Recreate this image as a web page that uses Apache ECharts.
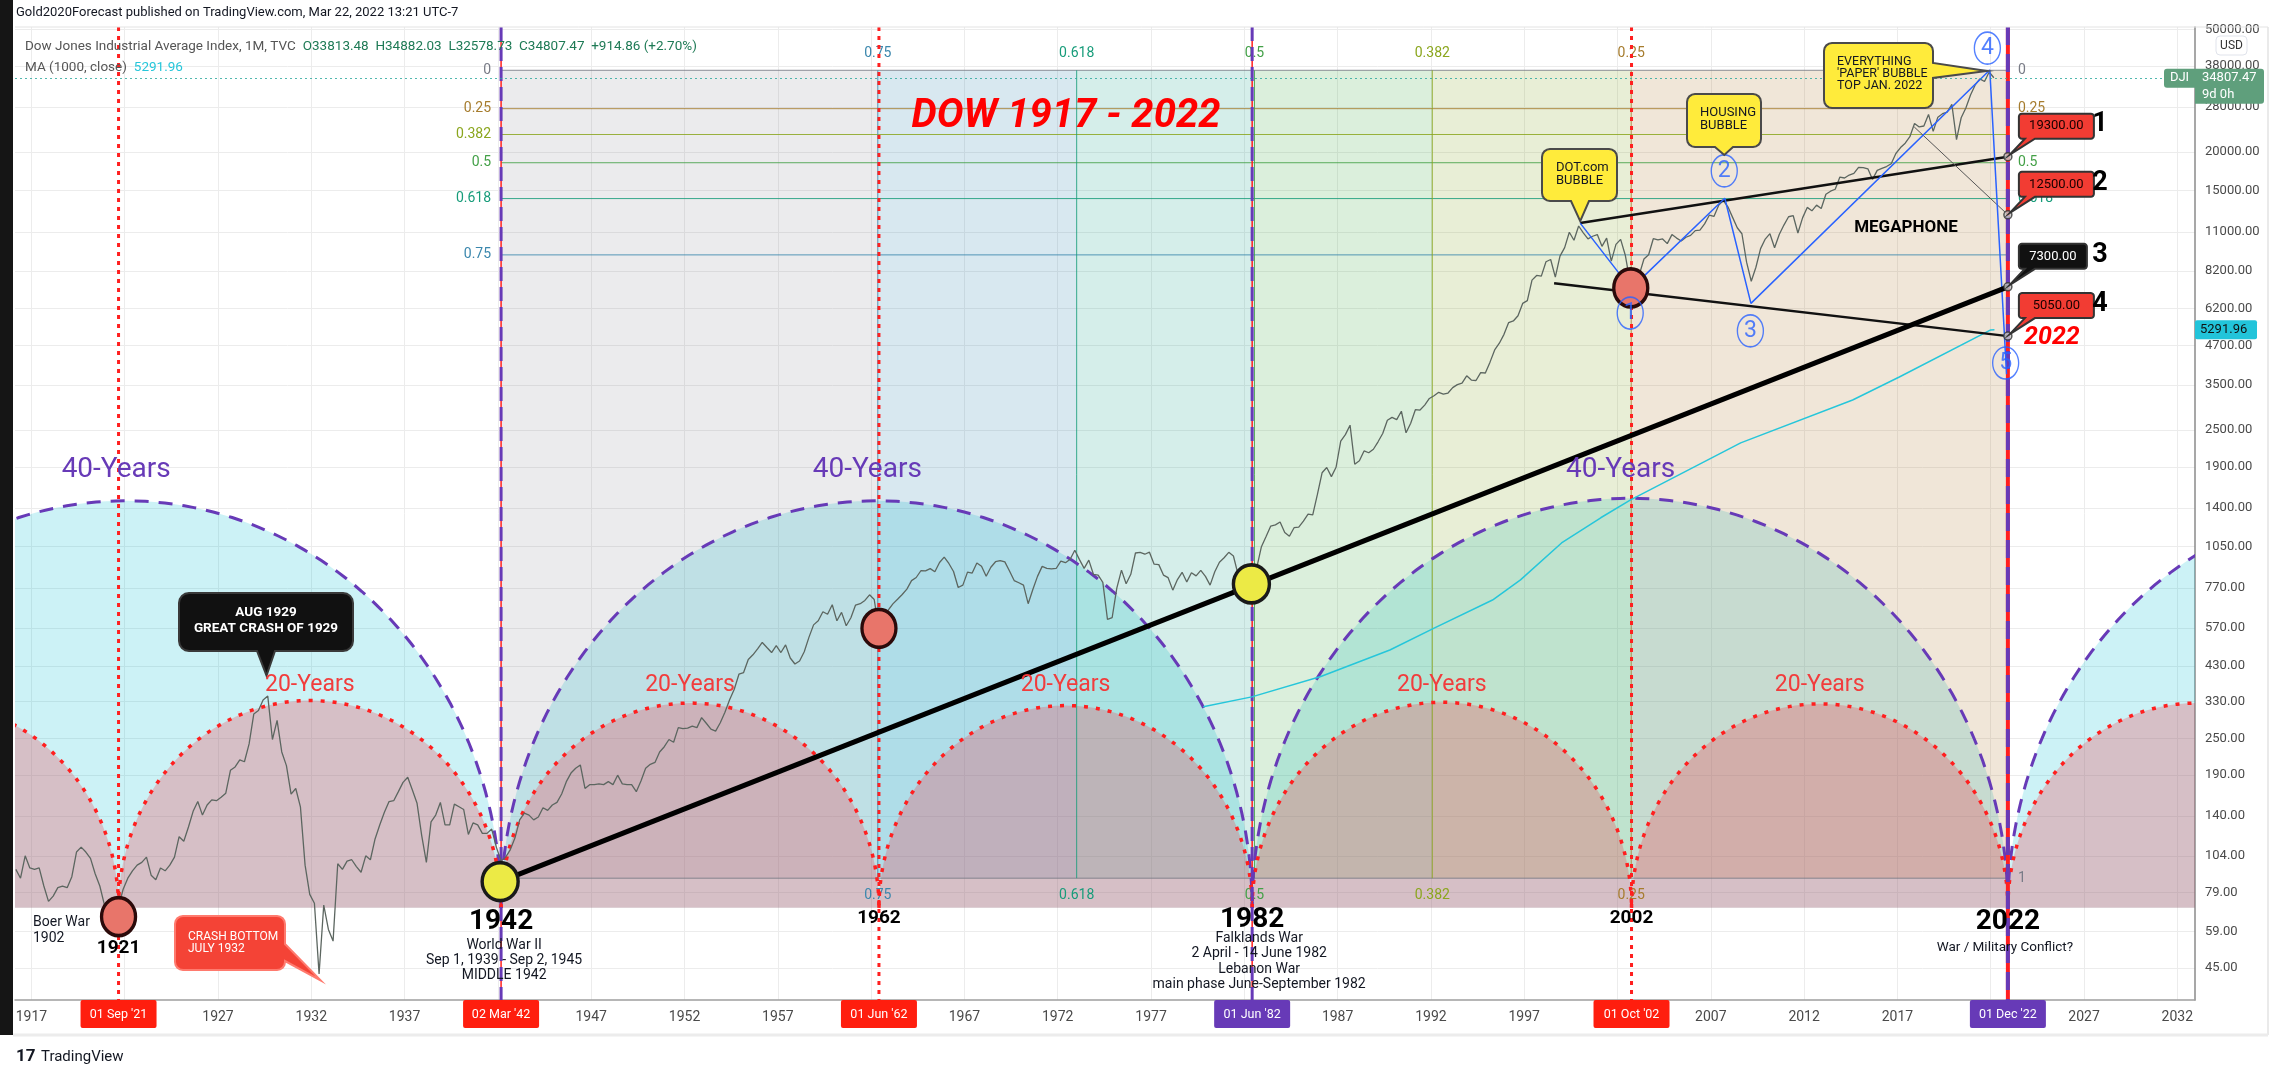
<!DOCTYPE html>
<html>
<head>
<meta charset="utf-8">
<title>DOW 1917 - 2022</title>
<script src="https://cdn.jsdelivr.net/npm/echarts@6.0.0/dist/echarts.min.js"></script>
<style>
  html, body { margin: 0; padding: 0; background: #fff; }
  #chart { width: 2277px; height: 1077px; }
</style>
</head>
<body>
<div id="chart"></div>
<script>
// ---------- values ----------

// Dow Jones quarter closes (Mar, Jun, Sep, Dec), 1916 .. Mar 2022
const dowStartYear = 1916;
const dowQuarterClose = [
  94, 88, 104, 95,            // 1916
  94, 95, 83, 74,             // 1917
  77, 82, 83, 82,             // 1918
  89, 107, 111, 107,          // 1919
  102, 91, 83, 72,            // 1920
  75, 69, 71, 81,             // 1921
  88, 93, 97, 99,             // 1922
  103, 90, 87, 95,            // 1923
  93, 97, 103, 120,           // 1924
  116, 129, 145, 156,         // 1925
  141, 152, 158, 157,         // 1926
  161, 166, 197, 202,         // 1927
  213, 210, 240, 300,         // 1928
  308, 333, 343, 248,         // 1929
  286, 226, 204, 165,         // 1930
  172, 150, 97, 78,           // 1931
  73, 43, 72, 60,             // 1932
  55, 98, 94, 100,            // 1933
  101, 96, 92, 104,           // 1934
  101, 118, 131, 144,         // 1935
  156, 157, 168, 180,         // 1936
  187, 170, 154, 121,         // 1937
  99, 134, 141, 155,          // 1938
  131, 131, 153, 150,         // 1939
  147, 122, 133, 131,         // 1940
  123, 123, 127, 111,         // 1941
  100, 103, 109, 119,         // 1942
  136, 143, 141, 136,         // 1943
  139, 149, 146, 152,         // 1944
  155, 165, 181, 193,         // 1945
  200, 205, 172, 177,         // 1946
  177, 178, 177, 181,         // 1947
  177, 190, 178, 177,         // 1948
  177, 168, 182, 200,         // 1949
  206, 209, 226, 235,         // 1950
  248, 243, 271, 269,         // 1951
  270, 274, 271, 292,         // 1952
  280, 268, 264, 281,         // 1953
  304, 334, 361, 404,         // 1954
  409, 451, 467, 488,         // 1955
  512, 493, 475, 500,         // 1956
  475, 503, 456, 436,         // 1957
  446, 478, 532, 584,         // 1958
  602, 644, 632, 679,         // 1959
  602, 641, 580, 616,         // 1960
  677, 684, 701, 731,         // 1961
  706, 561, 579, 652,         // 1962
  683, 707, 733, 763,         // 1963
  813, 832, 875, 874,         // 1964
  889, 868, 931, 969,         // 1965
  924, 870, 772, 786,         // 1966
  866, 860, 927, 905,         // 1967
  840, 898, 936, 944,         // 1968
  935, 873, 813, 800,         // 1969
  786, 684, 761, 839,         // 1970
  904, 891, 887, 890,         // 1971
  940, 929, 953, 1020,        // 1972
  951, 891, 947, 851,         // 1973
  847, 802, 608, 616,         // 1974
  768, 879, 794, 852,         // 1975
  999, 1003, 990, 1005,       // 1976
  919, 916, 847, 831,         // 1977
  757, 819, 865, 805,         // 1978
  862, 842, 878, 839,         // 1979
  786, 868, 932, 964,         // 1980
  1004, 977, 850, 875,        // 1981
  823, 812, 896, 1047,        // 1982
  1130, 1222, 1233, 1259,     // 1983
  1165, 1132, 1207, 1212,     // 1984
  1267, 1336, 1329, 1547,     // 1985
  1819, 1893, 1768, 1896,     // 1986
  2305, 2419, 2596, 1939,     // 1987
  1989, 2142, 2113, 2169,     // 1988
  2293, 2440, 2693, 2753,     // 1989
  2707, 2881, 2453, 2634,     // 1990
  2914, 2907, 3017, 3169,     // 1991
  3236, 3319, 3272, 3301,     // 1992
  3436, 3516, 3555, 3754,     // 1993
  3636, 3625, 3843, 3834,     // 1994
  4158, 4556, 4789, 5117,     // 1995
  5588, 5655, 5882, 6448,     // 1996
  6584, 7673, 7945, 7908,     // 1997
  8800, 8952, 7843, 9181,     // 1998
  9786, 10971, 10337, 11497,  // 1999
  10922, 10448, 10651, 10787, // 2000
  9879, 10502, 8848, 10022,   // 2001
  10404, 9243, 7592, 8342,    // 2002
  7992, 8985, 9275, 10454,    // 2003
  10358, 10435, 10080, 10783, // 2004
  10504, 10275, 10569, 10718, // 2005
  11109, 11150, 11679, 12463, // 2006
  12354, 13409, 13896, 13265, // 2007
  12263, 11350, 10851, 8776,  // 2008
  7609, 8447, 9712, 10428,    // 2009
  10857, 9774, 10788, 11578,  // 2010
  12320, 12414, 10913, 12218, // 2011
  13212, 12880, 13437, 13104, // 2012
  14579, 14910, 15130, 16577, // 2013
  16458, 16827, 17043, 17823, // 2014
  17776, 17620, 16285, 17425, // 2015
  17685, 17930, 18308, 19763, // 2016
  20663, 21350, 22405, 24719, // 2017
  24103, 24271, 26458, 23327, // 2018
  25929, 26600, 26917, 28538, // 2019
  21917, 25813, 27782, 30606, // 2020
  32982, 34503, 33844, 36338, // 2021
  34807                       // 2022 (to date)
];
const lastClose = 34807.47;

// MA (1000, close)
const maYears  = [1979.8, 1982.4, 1986.1, 1989.8, 1992.2, 1995.3, 1996.8, 1999.0, 2001.1, 2002.7, 2008.6, 2014.6, 2017.1, 2022.0, 2022.2];
const maValues = [317, 341, 397, 484, 571, 703, 817, 1077, 1300, 1486, 2274, 3133, 3720, 5290, 5292];
const maLast = 5291.96;

// axes
const xTickYears = [1917, 1922, 1927, 1932, 1937, 1942, 1947, 1952, 1957, 1962, 1967, 1972, 1977, 1982, 1987, 1992, 1997, 2002, 2007, 2012, 2017, 2022, 2027, 2032];
const yTickValues = [45, 59, 79, 104, 140, 190, 250, 330, 430, 570, 770, 1050, 1400, 1900, 2500, 3500, 4700, 6200, 8200, 11000, 15000, 20000, 28000, 38000, 50000];
const xFirstYear = 1916.121, xLastYear = 2032.947;
const priceFloor = 35.42, priceCeil = 50850;

// cycle dates
const cycle40Bounds = [1901.92, 1942.17, 1982.42, 2022.92, 2063.17];
const cycle20Bounds = [1901.42, 1921.67, 1942.17, 1962.42, 1982.42, 2002.75, 2022.92, 2043.17];
const redDotDates = [1921.67, 1962.42, 2002.75];
const purpleDates = [1942.17, 1982.42, 2022.92];
const arcBase = 70.5;

// fibonacci retracement / time
const fibLevels = [0, 0.25, 0.382, 0.5, 0.618, 0.75, 1];
const fibTimeLevels = [1, 0.75, 0.618, 0.5, 0.382, 0.25, 0];
const fibHigh = 36800, fibLow = 88;
const fibStartYear = 1942.17, fibEndYear = 2022.92;

// date tags on the time scale
const dateTagYears = [1921.67, 1942.17, 1962.42, 1982.42, 2002.75, 2022.92];
const dateTagLabels = ["01 Sep '21", "02 Mar '42", "01 Jun '62", "01 Jun '82", "01 Oct '02", "01 Dec '22"];

// marked lows
const redMarkYears = [1921.67, 1962.42, 2002.71];
const redMarkValues = [66, 569, 7240];
const yellowMarkYears = [1942.12, 1982.38];
const yellowMarkValues = [85.8, 793];

// drawn lines
const trendYears = [1942.12, 2022.92];
const trendValues = [85.8, 7300];
const megaUpperYears = [2000.0, 2022.92];
const megaUpperValues = [11750, 19300];
const megaLowerYears = [1998.6, 2022.92];
const megaLowerValues = [7500, 5050];
const thinYears = [2017.9, 2022.92];
const thinValues = [24100, 12500];
const waveYears = [2000.0, 2002.72, 2007.75, 2009.15, 2021.95, 2022.85];
const waveValues = [11750, 7200, 14150, 6450, 36900, 3800];
const waveLabelYears = [2002.68, 2007.72, 2009.12, 2021.82, 2022.80];
const waveLabelValues = [6000, 17350, 5250, 43400, 4130];
const waveLabelNames = ['1', '2', '3', '4', '5'];
const targetValues = [19300, 12500, 7300, 5050];
const targetNames = ['1', '2', '3', '4'];

// ---------- styles ----------
const FONT = 'Roboto';
const fibColor = { 0: '#787b86', 0.25: '#a67c2e', 0.382: '#8ba61e', 0.5: '#43a047', 0.618: '#179c7a', 0.75: '#3a87ad', 1: '#787b86' };
const fibBandFill = ['rgba(120,123,134,0.15)', 'rgba(60,140,180,0.2)', 'rgba(8,153,129,0.17)', 'rgba(76,175,80,0.2)', 'rgba(139,170,50,0.2)', 'rgba(180,130,60,0.2)'];
const dateTagColors = ['#ff1e0e', '#ff1e0e', '#ff1e0e', '#673ab7', '#ff1e0e', '#673ab7'];
const arcAspect = 1.084;

const L = v => Math.log10(v);
const pairs = (xs, vs) => xs.map((x, i) => [x, L(vs[i])]);
const fibPrice = l => fibHigh - l * (fibHigh - fibLow);
const fibTime = l => fibEndYear - l * (fibEndYear - fibStartYear);

const priceData = dowQuarterClose.map((v, i) => [dowStartYear + i * 0.25 + 2 / 12, L(v)]);
const cyclePairs = b => b.slice(0, -1).map((s, i) => [s, b[i + 1]]);
const fibBandData = fibTimeLevels.slice(0, -1).map((l, i) => [fibTime(l), fibTime(fibTimeLevels[i + 1])]);

function clipRect(params) {
  const c = params.coordSys;
  return { type: 'rect', shape: { x: c.x, y: c.y, width: c.width, height: c.height } };
}
function arcPoints(api) {
  const a = api.coord([api.value(0), L(arcBase)]);
  const b = api.coord([api.value(1), L(arcBase)]);
  const cx = (a[0] + b[0]) / 2, rx = (b[0] - a[0]) / 2, ry = rx * arcAspect;
  const pts = [];
  for (let k = 0; k <= 120; k++) {
    const t = Math.PI * k / 120;
    pts.push([cx - rx * Math.cos(t), a[1] - ry * Math.sin(t)]);
  }
  return pts;
}
const arcFill = color => (params, api) => ({
  type: 'group', clipPath: clipRect(params),
  children: [{ type: 'polygon', shape: { points: arcPoints(api) }, style: { fill: color } }]
});
const arcStroke = (color, width, dash) => (params, api) => ({
  type: 'group', clipPath: clipRect(params),
  children: [{ type: 'polyline', shape: { points: arcPoints(api) }, style: { stroke: color, lineWidth: width, lineDash: dash, fill: null } }]
});

function bandRender(params, api) {
  const p0 = api.coord([api.value(0), L(fibHigh)]);
  const p1 = api.coord([api.value(1), L(fibLow)]);
  return { type: 'rect', shape: { x: p0[0], y: p0[1], width: p1[0] - p0[0], height: p1[1] - p0[1] }, style: { fill: fibBandFill[params.dataIndex] } };
}
function fibLevelRender(params, api) {
  const lvl = fibLevels[params.dataIndex];
  const a = api.coord([fibStartYear, L(fibPrice(lvl))]);
  const b = api.coord([fibEndYear, L(fibPrice(lvl))]);
  const c = fibColor[lvl];
  const ts = { text: String(lvl), fill: c, fontSize: 14, fontFamily: FONT, verticalAlign: 'middle' };
  return {
    type: 'group', children: [
      { type: 'line', shape: { x1: a[0], y1: a[1], x2: b[0], y2: b[1] }, style: { stroke: c, lineWidth: 1, opacity: 0.85 } },
      { type: 'text', x: a[0] - 10, y: a[1], style: Object.assign({ align: 'right' }, ts) },
      { type: 'text', x: b[0] + 10, y: b[1], style: Object.assign({ align: 'left' }, ts) }
    ]
  };
}
function fibTimeRender(params, api) {
  const lvl = fibTimeLevels[params.dataIndex + 1];
  const t = fibTime(lvl);
  const top = api.coord([t, L(fibHigh)]);
  const bot = api.coord([t, L(fibLow)]);
  const c = fibColor[lvl];
  const ts = { text: String(lvl), fill: c, fontSize: 14, fontFamily: FONT, align: 'center', verticalAlign: 'middle' };
  return {
    type: 'group', children: [
      { type: 'line', shape: { x1: top[0], y1: top[1], x2: bot[0], y2: bot[1] }, style: { stroke: c, lineWidth: 1, opacity: 0.85 } },
      { type: 'text', x: top[0], y: top[1] - 17, style: ts },
      { type: 'text', x: bot[0], y: bot[1] + 17, style: ts }
    ]
  };
}
function cycleLineRender(params, api) {
  const x = api.coord([api.value(0), L(100)])[0];
  const c = params.coordSys;
  const kind = api.value(1);
  const seg = (stroke, w, dash) => ({ type: 'line', shape: { x1: x, y1: c.y, x2: x, y2: c.y + c.height }, style: { stroke, lineWidth: w, lineDash: dash } });
  if (kind === 0) return seg('#ff1f1f', 3, [4, 5]);
  if (kind === 1) return { type: 'group', children: [seg('#ff1f1f', 1.5, null), seg('#673ab7', 3, [14, 6])] };
  return { type: 'group', children: [seg('#ff1f1f', 4, null), seg('#673ab7', 4, [18, 9])] };
}
const cycleLineData = redDotDates.map(d => [d, 0]).concat(purpleDates.map((d, i) => [d, i === purpleDates.length - 1 ? 2 : 1]));

const lineSeries = (data, color, width, z) => ({
  type: 'line', data, symbol: 'none', silent: true, z: z || 3,
  lineStyle: { color, width }, emphasis: { disabled: true }
});

const chart = echarts.init(document.getElementById('chart'), null, { renderer: 'canvas' });

chart.setOption({
  animation: false,
  backgroundColor: '#ffffff',
  grid: { left: 15, top: 27, width: 2180, height: 973, containLabel: false, outerBoundsMode: 'none' },
  xAxis: {
    type: 'value', min: xFirstYear, max: xLastYear,
    axisLine: { show: true, lineStyle: { color: '#9e9e9e', width: 1.5 } },
    axisTick: { show: false, customValues: xTickYears },
    axisLabel: { customValues: xTickYears, color: '#4a4a4a', fontSize: 14, fontFamily: FONT, margin: 10, formatter: v => String(Math.round(v)) },
    splitLine: { show: true, lineStyle: { color: '#ececec', width: 1 } }
  },
  yAxis: {
    type: 'value', position: 'right', min: L(priceFloor), max: L(priceCeil),
    axisLine: { show: true, lineStyle: { color: '#8a8a8a', width: 1.5 } },
    axisTick: { show: false, customValues: yTickValues.map(L) },
    axisLabel: { customValues: yTickValues.map(L), color: '#4a4a4a', fontSize: 13, fontFamily: FONT, margin: 10, formatter: v => Math.round(Math.pow(10, v)).toFixed(2) },
    splitLine: { show: true, lineStyle: { color: '#ececec', width: 1 } }
  },
  series: [
    { type: 'custom', name: '40-year fill', data: cyclePairs(cycle40Bounds), renderItem: arcFill('rgba(0,188,212,0.2)'), silent: true, z: 1 },
    { type: 'custom', name: 'fib bands', data: fibBandData, renderItem: bandRender, silent: true, z: 1 },
    { type: 'custom', name: '20-year fill', data: cyclePairs(cycle20Bounds), renderItem: arcFill('rgba(242,54,69,0.27)'), silent: true, z: 1 },
    { type: 'custom', name: 'fib levels', data: fibLevels.map(l => [fibStartYear, L(fibPrice(l))]), renderItem: fibLevelRender, silent: true, z: 2 },
    { type: 'custom', name: 'fib time', data: fibTimeLevels.slice(1, -1).map(l => [fibTime(l), L(fibHigh)]), renderItem: fibTimeRender, silent: true, z: 2 },
    { type: 'custom', name: '40-year arcs', data: cyclePairs(cycle40Bounds), renderItem: arcStroke('#673ab7', 3, [14, 10]), silent: true, z: 2 },
    { type: 'custom', name: '20-year arcs', data: cyclePairs(cycle20Bounds), renderItem: arcStroke('#ff1f1f', 3.5, [4, 8]), silent: true, z: 2 },
    { type: 'custom', name: 'cycle lines', data: cycleLineData, renderItem: cycleLineRender, silent: true, z: 2 },
    Object.assign(lineSeries(priceData, '#5c6660', 1.3, 3), {
      name: 'DJI',
      markLine: { silent: true, symbol: 'none', label: { show: false }, lineStyle: { color: '#26a69a', type: [2, 3], width: 1, opacity: 0.8 }, data: [{ yAxis: L(lastClose) }] }
    }),
    lineSeries(pairs(maYears, maValues), '#26c6da', 1.5, 3),
    lineSeries(pairs(megaUpperYears, megaUpperValues), '#111111', 2.5, 4),
    lineSeries(pairs(megaLowerYears, megaLowerValues), '#111111', 2.5, 4),
    lineSeries(pairs(thinYears, thinValues), '#555555', 1, 4),
    lineSeries(pairs(waveYears, waveValues), '#2962ff', 1.5, 4),
    lineSeries(pairs(trendYears, trendValues), '#000000', 5, 4),
    {
      type: 'scatter', name: 'red lows', data: pairs(redMarkYears, redMarkValues), symbol: 'circle', symbolSize: [34, 38], silent: true, z: 5,
      itemStyle: { color: '#e8756a', borderColor: '#2b0a0a', borderWidth: 3.5, opacity: 1 }
    },
    {
      type: 'scatter', name: 'yellow lows', data: pairs(yellowMarkYears, yellowMarkValues), symbol: 'circle', symbolSize: [36, 38], silent: true, z: 5,
      itemStyle: { color: '#ecea45', borderColor: '#1a1a1a', borderWidth: 3.5, opacity: 1 }
    },
    {
      type: 'scatter', name: 'wave count', silent: true, z: 5, symbol: 'circle', symbolSize: [26, 32],
      data: waveLabelYears.map((y, i) => ({ value: [y, L(waveLabelValues[i])], name: waveLabelNames[i] })),
      itemStyle: { color: 'rgba(255,255,255,0)', borderColor: '#2962ff', borderWidth: 1.5 },
      label: { show: true, position: 'inside', formatter: '{b}', color: '#2962ff', fontSize: 23, fontFamily: FONT }
    },
    {
      type: 'scatter', name: 'targets', silent: true, z: 5, symbol: 'circle', symbolSize: 8,
      data: targetValues.map(v => [fibEndYear, L(v)]),
      itemStyle: { color: '#c8c8c8', borderColor: '#333333', borderWidth: 1.5 }
    }
  ]
});

// ---------- annotations ----------
const P = (yr, v) => chart.convertToPixel({ gridIndex: 0 }, [yr, L(v)]);
const X = yr => P(yr, 100)[0];

const T = (x, y, text, s) => ({
  type: 'text', x, y, z: 100, silent: true,
  style: Object.assign({ text, fill: '#131722', fontSize: 14, fontFamily: FONT, align: 'center', verticalAlign: 'middle' }, s || {})
});
const R = (x, y, w, h, style, r) => ({ type: 'rect', z: 99, silent: true, shape: { x, y, width: w, height: h, r: r || 0 }, style });
const Ln = (x1, y1, x2, y2, stroke, w) => ({ type: 'line', z: 98, silent: true, shape: { x1, y1, x2, y2 }, style: { stroke, lineWidth: w } });

function calloutPoly(x, y, w, h, r, ptr) {
  const pts = [];
  const arc = (cx, cy, a0) => { for (let k = 0; k <= 4; k++) { const a = a0 + k * Math.PI / 8; pts.push([cx + r * Math.cos(a), cy + r * Math.sin(a)]); } };
  arc(x + r, y + r, Math.PI);
  arc(x + w - r, y + r, -Math.PI / 2);
  if (ptr.side === 'right') pts.push([x + w, ptr.a], ptr.tip, [x + w, ptr.b]);
  arc(x + w - r, y + h - r, 0);
  if (ptr.side === 'bottom') pts.push([ptr.b, y + h], ptr.tip, [ptr.a, y + h]);
  arc(x + r, y + h - r, Math.PI / 2);
  return { type: 'polygon', z: 99, silent: true, shape: { points: pts }, style: { fill: ptr.fill, stroke: ptr.stroke, lineWidth: ptr.lw || 2 } };
}

const g = [];

// frame
g.push(R(0, 0, 13, 1035, { fill: '#151515' }));
g.push(Ln(15, 27, 2268, 27, '#e3e3e3', 1));
g.push(Ln(2268, 27, 2268, 1035, '#e3e3e3', 1.5));
g.push(Ln(13, 1035, 2268, 1035, '#ececec', 3));

// header and legend
g.push(T(16, 13, 'Gold2020Forecast published on TradingView.com, Mar 22, 2022 13:21 UTC-7', { align: 'left', fontSize: 13 }));
g.push(T(25, 47, '{g|Dow Jones Industrial Average Index, 1M, TVC}  {v|O33813.48  H34882.03  L32578.73  C34807.47  +914.86 (+2.70%)}', {
  align: 'left', rich: { g: { fill: '#555555', fontSize: 13.5, fontFamily: FONT }, v: { fill: '#1e7a55', fontSize: 13.5, fontFamily: FONT } }
}));
g.push(T(25, 68, '{g|MA (1000, close)}  {v|5291.96}', {
  align: 'left', rich: { g: { fill: '#555555', fontSize: 13.5, fontFamily: FONT }, v: { fill: '#26c6da', fontSize: 13.5, fontFamily: FONT } }
}));

// title
g.push(T(1066, 117, 'DOW 1917 - 2022', { fill: '#ff0000', fontSize: 40, fontWeight: 'bold', fontStyle: 'italic' }));

// cycle labels
for (let i = 0; i < 3; i++) {
  const mid = (cycle40Bounds[i] + cycle40Bounds[i + 1]) / 2;
  g.push(T(X(mid - 0.5), 470, '40-Years', { fill: '#673ab7', fontSize: 28 }));
}
for (let i = 1; i <= 5; i++) {
  const mid = (cycle20Bounds[i] + cycle20Bounds[i + 1]) / 2;
  g.push(T(X(mid), 685, '20-Years', { fill: '#f23c3c', fontSize: 23 }));
}

// year labels under the cycle turns
const bigYearY = [948, 922, 918, 920, 918, 922];
const bigYearSize = [19, 28, 19, 28, 19, 28];
dateTagYears.forEach((d, i) => {
  g.push(T(X(d), bigYearY[i], String(Math.floor(d)), { fontSize: bigYearSize[i], fontWeight: 'bold', fill: '#000' }));
});
g.push(T(33, 922, 'Boer War', { align: 'left' }));
g.push(T(33, 938, '1902', { align: 'left' }));
['World War II', 'Sep 1, 1939 - Sep 2, 1945', 'MIDDLE 1942'].forEach((s, i) => g.push(T(X(1942.17) + 3, 945 + i * 15, s)));
['Falklands War', '2 April - 14 June 1982', 'Lebanon War', 'main phase June-September 1982'].forEach((s, i) => g.push(T(X(1982.42) + 7, 938.5 + i * 15.3, s)));
g.push(T(X(2022.92) - 3, 948, 'War / Military Conflict?', { fontSize: 13.5 }));

// callouts
const tipDot = P(2000.0, 11750);
g.push(calloutPoly(1542, 149, 75, 52, 8, { side: 'bottom', a: 1571, b: 1589, tip: [tipDot[0], tipDot[1] - 2], fill: '#ffeb3b', stroke: '#4a4a4a' }));
g.push(T(1556, 168, 'DOT.com', { align: 'left', fontSize: 13 }));
g.push(T(1556, 181, 'BUBBLE', { align: 'left', fontSize: 13 }));

const tipHouse = P(2007.72, 17350);
g.push(calloutPoly(1687, 94, 74, 53, 8, { side: 'bottom', a: 1715, b: 1733, tip: [tipHouse[0], tipHouse[1] - 16], fill: '#ffeb3b', stroke: '#4a4a4a' }));
g.push(T(1700, 113, 'HOUSING', { align: 'left', fontSize: 13 }));
g.push(T(1700, 126, 'BUBBLE', { align: 'left', fontSize: 13 }));

const tipTop = P(2021.95, 36900);
g.push(calloutPoly(1824, 43, 109, 65, 8, { side: 'right', a: 63, b: 78, tip: [tipTop[0] - 3, tipTop[1] + 1], fill: '#ffeb3b', stroke: '#4a4a4a' }));
g.push(T(1837, 62, 'EVERYTHING', { align: 'left', fontSize: 12.5 }));
g.push(T(1837, 74, "'PAPER' BUBBLE", { align: 'left', fontSize: 12.5 }));
g.push(T(1837, 86, 'TOP JAN. 2022', { align: 'left', fontSize: 12.5 }));

const tip1929 = P(1929.6, 400);
g.push(calloutPoly(179, 593, 174, 58, 10, { side: 'bottom', a: 257, b: 275, tip: tip1929, fill: '#111111', stroke: '#3a3a3a' }));
g.push(T(266, 613, 'AUG 1929', { fill: '#ffffff', fontSize: 13.5, fontWeight: 'bold' }));
g.push(T(266, 628.5, 'GREAT CRASH OF 1929', { fill: '#ffffff', fontSize: 13.5, fontWeight: 'bold' }));

const tip1932 = P(1932.5, 41);
g.push(calloutPoly(175, 916, 110, 54, 8, { side: 'right', a: 944, b: 961, tip: tip1932, fill: '#f44336', stroke: '#ff7a6e' }));
g.push(T(188, 937, 'CRASH BOTTOM', { align: 'left', fill: '#ffffff', fontSize: 12 }));
g.push(T(188, 949, 'JULY 1932', { align: 'left', fill: '#ffffff', fontSize: 12 }));

// target price boxes at the 2022 turn
targetValues.forEach((v, i) => {
  const p = P(fibEndYear, v);
  const black = i === 2;
  const w = black ? 68 : 75;
  const bx = p[0] + 11, by = p[1] - 43;
  g.push(calloutPoly(bx, by, w, 25, 3, { side: 'bottom', a: bx + 6, b: bx + 16, tip: [p[0] + 2, p[1] - 2], fill: black ? '#111111' : '#f23c33', stroke: '#333333' }));
  g.push(T(bx + w / 2, by + 12.5, v.toFixed(2), { fill: black ? '#ffffff' : '#1a0000', fontSize: 13 }));
  g.push(T(p[0] + 92, by + 11, targetNames[i], { fill: '#000', fontSize: 27, fontWeight: 'bold' }));
});
g.push(T(X(fibEndYear) + 44, P(fibEndYear, 5050)[1] + 2, '2022', { fill: '#ff0000', fontSize: 25, fontWeight: 'bold', fontStyle: 'italic' }));
g.push(T(1906, 228, 'MEGAPHONE', { fontSize: 17, fontWeight: 'bold', fill: '#000' }));

// time scale tags
dateTagYears.forEach((d, i) => {
  const x = X(d);
  g.push(R(x - 38, 1000, 76, 28, { fill: dateTagColors[i] }, 2));
  g.push(T(x, 1015, dateTagLabels[i], { fill: '#ffffff', fontSize: 12.5 }));
});

// price scale tags
const yLast = P(2022, lastClose)[1];
g.push(R(2164, yLast - 9, 31, 19, { fill: '#5f9f7c' }, [3, 0, 0, 3]));
g.push(T(2179.5, yLast + 0.5, 'DJI', { fill: '#ffffff', fontSize: 13 }));
g.push(R(2195, yLast - 9, 69, 35, { fill: '#5f9f7c' }, [0, 3, 3, 0]));
g.push(T(2202, yLast + 0.5, lastClose.toFixed(2), { fill: '#ffffff', fontSize: 13, align: 'left' }));
g.push(T(2202, yLast + 17, '9d 0h', { fill: '#ffffff', fontSize: 13, align: 'left' }));
const yMa = P(2022, maLast)[1];
g.push(R(2195, yMa - 9.5, 62, 19, { fill: '#22c4da' }, 2));
g.push(T(2200, yMa, maLast.toFixed(2), { fill: '#111111', fontSize: 13, align: 'left' }));
g.push(R(2216, 36, 31, 19, { fill: '#ffffff', stroke: '#e0e3eb', lineWidth: 1 }, 4));
g.push(T(2231.5, 45.5, 'USD', { fill: '#333333', fontSize: 12 }));

// footer
g.push(T(16, 1057, '17', { align: 'left', fontSize: 17, fontWeight: 'bold', fill: '#131722' }));
g.push(T(41, 1057, 'TradingView', { align: 'left', fontSize: 15, fill: '#131722' }));

chart.setOption({ graphic: g });
</script>
</body>
</html>
